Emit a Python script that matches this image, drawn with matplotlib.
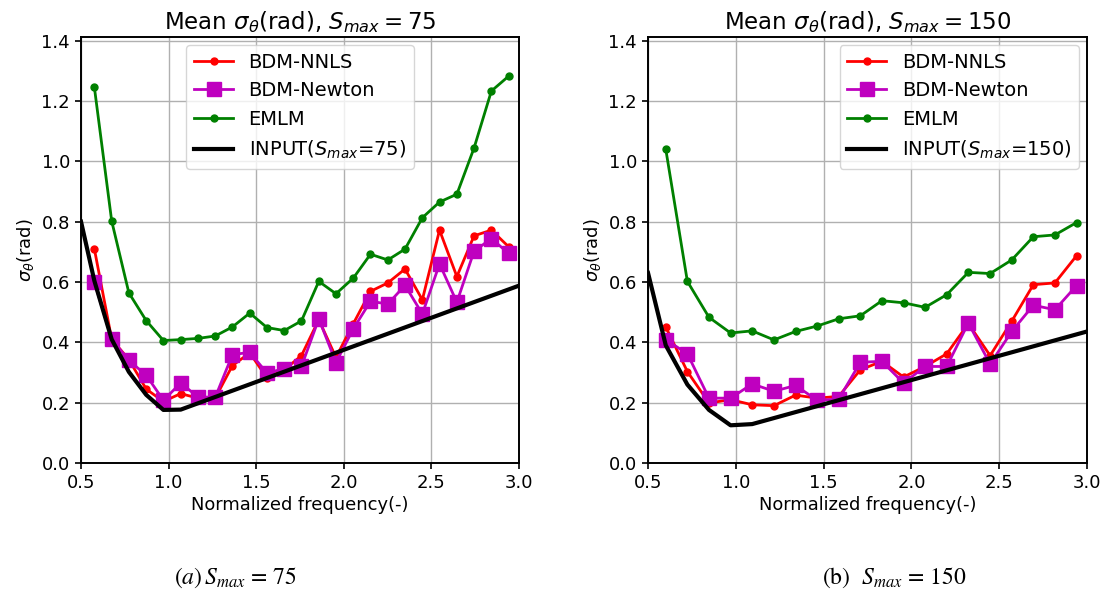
import matplotlib
matplotlib.use("Agg")
import matplotlib.pyplot as plt

# ---- S_max = 75 ----
freq_75 = [0.576, 0.675, 0.773, 0.872, 0.970, 1.069, 1.167, 1.266, 1.364, 1.463,
           1.561, 1.660, 1.758, 1.857, 1.955, 2.054, 2.152, 2.251, 2.349, 2.448,
           2.546, 2.645, 2.743, 2.842, 2.940]
nnls_75 = [0.710, 0.410, 0.343, 0.245, 0.204, 0.230, 0.215, 0.215, 0.323, 0.365,
           0.282, 0.309, 0.356, 0.475, 0.350, 0.462, 0.569, 0.597, 0.643, 0.541,
           0.772, 0.618, 0.753, 0.772, 0.717]
newton_75 = [0.600, 0.411, 0.340, 0.291, 0.208, 0.265, 0.219, 0.218, 0.359, 0.367,
             0.298, 0.313, 0.320, 0.478, 0.333, 0.445, 0.536, 0.527, 0.589, 0.494,
             0.660, 0.533, 0.702, 0.744, 0.695]
emlm_75 = [1.246, 0.802, 0.564, 0.472, 0.406, 0.409, 0.413, 0.421, 0.451, 0.497,
           0.449, 0.439, 0.471, 0.602, 0.561, 0.613, 0.692, 0.673, 0.709, 0.813,
           0.865, 0.891, 1.044, 1.233, 1.282]
input_freq_75 = [0.5, 0.576, 0.675, 0.773, 0.872, 0.970, 1.069, 3.0]
input_75 = [0.800, 0.604, 0.410, 0.302, 0.226, 0.176, 0.177, 0.588]

# ---- S_max = 150 ----
freq_150 = [0.601, 0.724, 0.847, 0.970, 1.093, 1.217, 1.340, 1.463, 1.586, 1.709,
            1.832, 1.955, 2.078, 2.201, 2.324, 2.448, 2.571, 2.694, 2.817, 2.940]
nnls_150 = [0.451, 0.303, 0.199, 0.210, 0.193, 0.190, 0.225, 0.215, 0.221, 0.309,
            0.337, 0.285, 0.320, 0.362, 0.462, 0.356, 0.470, 0.591, 0.597, 0.687]
newton_150 = [0.409, 0.362, 0.215, 0.215, 0.262, 0.238, 0.257, 0.208, 0.212, 0.334,
              0.337, 0.265, 0.320, 0.320, 0.464, 0.328, 0.436, 0.523, 0.508, 0.588]
emlm_150 = [1.040, 0.602, 0.483, 0.431, 0.438, 0.408, 0.436, 0.454, 0.478, 0.488,
            0.538, 0.531, 0.516, 0.558, 0.632, 0.628, 0.673, 0.750, 0.756, 0.797]
input_freq_150 = [0.5, 0.601, 0.724, 0.847, 0.970, 1.093, 3.0]
input_150 = [0.630, 0.390, 0.260, 0.176, 0.125, 0.129, 0.436]

x_ticks = [0.5, 1.0, 1.5, 2.0, 2.5, 3.0]
y_ticks = [0.0, 0.2, 0.4, 0.6, 0.8, 1.0, 1.2, 1.4]

fig = plt.figure(figsize=(11.07, 5.93), dpi=100)
ax_a = fig.add_axes([0.0732, 0.2192, 0.3957, 0.7184])
ax_b = fig.add_axes([0.5854, 0.2192, 0.3966, 0.7184])


def draw_panel(ax, freq, nnls, newton, emlm, in_freq, in_vals, smax, loc):
    ax.plot(freq, nnls, color="red", marker="o", markersize=5, linewidth=2.0,
            label="BDM-NNLS")
    ax.plot(freq, newton, color="m", marker="s", markersize=9.5, linewidth=2.0,
            label="BDM-Newton")
    ax.plot(freq, emlm, color="green", marker="o", markersize=5, linewidth=2.0,
            label="EMLM")
    ax.plot(in_freq, in_vals, color="black", linewidth=3.0,
            label=r"INPUT($S_{max}$=%d)" % smax)
    ax.set_xlim(0.5, 3.0)
    ax.set_ylim(0.0, 1.412)
    ax.set_xticks(x_ticks)
    ax.set_yticks(y_ticks)
    ax.set_xticklabels(["%.1f" % v for v in x_ticks])
    ax.set_yticklabels(["%.1f" % v for v in y_ticks])
    ax.tick_params(labelsize=13, width=1.2, length=4.5, color="black")
    ax.grid(True, color="#b0b0b0", linewidth=1.0)
    ax.set_axisbelow(True)
    for sp in ax.spines.values():
        sp.set_linewidth(1.4)
        sp.set_color("black")
    ax.set_title(r"Mean $\sigma_\theta$(rad), $S_{max}=%d$" % smax, fontsize=16.5,
                 pad=6)
    ax.set_xlabel("Normalized frequency(-)", fontsize=12.9, labelpad=3)
    ax.set_ylabel(r"$\sigma_\theta$(rad)", fontsize=12.9, labelpad=4)
    ax.legend(loc=loc, fontsize=14, borderaxespad=0.4)


draw_panel(ax_a, freq_75, nnls_75, newton_75, emlm_75, input_freq_75, input_75,
           75, "upper center")
draw_panel(ax_b, freq_150, nnls_150, newton_150, emlm_150, input_freq_150,
           input_150, 150, "upper right")

fig.text(0.213, 0.016, r"$(a)\,S_{max}$ = 75", fontsize=17,
         family="STIXGeneral", math_fontfamily="stix", ha="center")
fig.text(0.808, 0.016, r"(b)  $S_{max}$ = 150", fontsize=17,
         family="STIXGeneral", math_fontfamily="stix", ha="center")

fig.savefig("out.png", dpi=100)
